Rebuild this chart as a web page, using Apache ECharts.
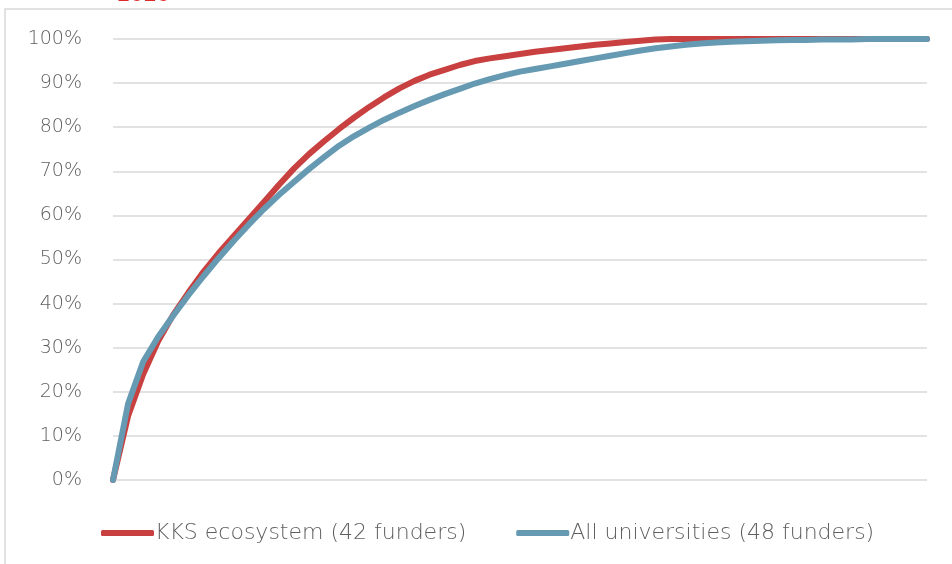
<!DOCTYPE html>
<html>
<head>
<meta charset="utf-8">
<script src="https://cdn.jsdelivr.net/npm/echarts@6/dist/echarts.min.js"></script>
<style>
  html, body { margin: 0; padding: 0; background: #fff; }
  #chart { width: 952px; height: 564px; }
</style>
</head>
<body>
<div id="chart"></div>
<script>
// Cumulative share of funding by number of funders (ranked)
const ranks = Array.from({ length: 55 }, (_, i) => String(i));

const kksEcosystem = [
  0, 14.5, 24.0, 31.5, 37.5, 42.5, 47.2, 51.4, 55.3, 59.1,
  63.0, 66.9, 70.6, 73.9, 76.8, 79.6, 82.2, 84.6, 86.8, 88.8,
  90.5, 91.9, 93.0, 94.1, 95.0, 95.6, 96.1, 96.6, 97.1, 97.5,
  97.9, 98.3, 98.7, 99.0, 99.3, 99.6, 99.9, 100, 100, 100,
  100, 100, 100, 100, 100, 100, 100, 100, 100, 100,
  100, 100, 100, 100, 100
];

const allUniversities = [
  0, 17.3, 26.8, 32.5, 37.3, 41.9, 46.2, 50.3, 54.2, 57.9,
  61.4, 64.6, 67.6, 70.5, 73.2, 75.8, 78.0, 79.9, 81.7, 83.3,
  84.8, 86.2, 87.5, 88.7, 89.9, 90.9, 91.8, 92.6, 93.2, 93.8,
  94.4, 95.0, 95.6, 96.2, 96.8, 97.4, 97.9, 98.3, 98.7, 99.0,
  99.2, 99.4, 99.5, 99.6, 99.7, 99.8, 99.8, 99.9, 99.9, 99.9,
  100, 100, 100, 100, 100
];

const seriesNames = ['KKS ecosystem (42 funders)', 'All universities (48 funders)'];
const yearLabel = '2020';

const RED = '#C8403F';
const BLUE = '#669AB2';
const FONT = '"DejaVu Sans", sans-serif';
const TEXT_GREY = '#5f5f5f';

const chart = echarts.init(document.getElementById('chart'), null, { renderer: 'canvas' });

chart.setOption({
  animation: false,
  backgroundColor: '#fff',
  graphic: [
    {
      type: 'rect',
      shape: { x: 5, y: 9, width: 1000, height: 700 },
      style: { fill: 'none', stroke: '#D9D9D9', lineWidth: 1.5 },
      silent: true
    },
    {
      type: 'text',
      x: 117,
      y: 6,
      style: {
        text: yearLabel,
        fill: '#E02A2A',
        font: 'bold 19px ' + FONT,
        verticalAlign: 'bottom'
      },
      silent: true
    }
  ],
  grid: { left: 113, right: 25, top: 39, bottom: 84 },
  legend: {
    data: seriesNames,
    left: 96,
    top: 517,
    itemWidth: 53,
    itemHeight: 6,
    itemGap: 50,
    icon: 'roundRect',
    textStyle: {
      fontFamily: FONT,
      fontSize: 22,
      fontWeight: 200,
      color: TEXT_GREY,
      padding: [0, 0, 0, -4]
    }
  },
  xAxis: {
    type: 'category',
    data: ranks,
    boundaryGap: false,
    axisLine: { show: false },
    axisTick: { show: false },
    axisLabel: { show: false },
    splitLine: { show: false }
  },
  yAxis: {
    type: 'value',
    min: 0,
    max: 100,
    interval: 10,
    axisLine: { show: false },
    axisTick: { show: false },
    axisLabel: {
      formatter: '{value}%',
      fontFamily: FONT,
      fontSize: 19,
      fontWeight: 200,
      color: TEXT_GREY,
      margin: 31
    },
    splitLine: { lineStyle: { color: '#D9D9D9', width: 1.5 } }
  },
  series: [
    {
      name: seriesNames[0],
      type: 'line',
      data: kksEcosystem,
      symbol: 'none',
      lineStyle: { color: RED, width: 6, cap: 'round', join: 'round' },
      itemStyle: { color: RED }
    },
    {
      name: seriesNames[1],
      type: 'line',
      data: allUniversities,
      symbol: 'none',
      lineStyle: { color: BLUE, width: 6, cap: 'round', join: 'round' },
      itemStyle: { color: BLUE }
    }
  ]
});
</script>
</body>
</html>
